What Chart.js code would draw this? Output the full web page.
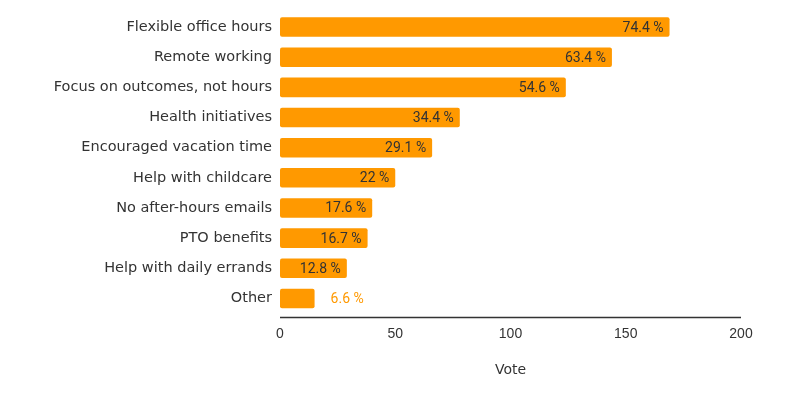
<!DOCTYPE html>
<html>
<head>
<meta charset="utf-8">
<script src="https://cdn.jsdelivr.net/npm/chart.js@4"></script>
<style>
  html, body { margin: 0; padding: 0; background: #fff; }
  #wrap { width: 798px; height: 397px; }
</style>
</head>
<body>
<div id="wrap"><canvas id="myChart" width="798" height="397"></canvas></div>
<script>
const categories = [
  'Flexible office hours',
  'Remote working',
  'Focus on outcomes, not hours',
  'Health initiatives',
  'Encouraged vacation time',
  'Help with childcare',
  'No after-hours emails',
  'PTO benefits',
  'Help with daily errands',
  'Other'
];
const votes = [169, 144, 124, 78, 66, 50, 40, 38, 29, 15];
const percentLabels = ['74.4', '63.4', '54.6', '34.4', '29.1', '22', '17.6', '16.7', '12.8', '6.6'];
const xTicks = [0, 50, 100, 150, 200];

const barColor = '#ff9900';
const textColor = '#333333';

// percent labels at the end of each bar
const barLabels = {
  id: 'barLabels',
  afterDatasetsDraw(chart) {
    const ctx = chart.ctx;
    const meta = chart.getDatasetMeta(0);
    ctx.save();
    ctx.font = '14px Roboto';
    ctx.textBaseline = 'middle';
    meta.data.forEach(function(bar, i) {
      const txt = percentLabels[i] + ' %';
      const w = ctx.measureText(txt).width;
      const barW = bar.x - bar.base;
      if (barW > w + 14) {
        ctx.fillStyle = textColor;
        ctx.textAlign = 'right';
        ctx.fillText(txt, bar.x - 6, bar.y + 1);
      } else {
        ctx.fillStyle = barColor;
        ctx.textAlign = 'left';
        ctx.fillText(txt, bar.x + 16, bar.y + 1);
      }
    });
    ctx.restore();
  }
};

// x axis base line, sits a few px under the last band
const axisLine = {
  id: 'axisLine',
  afterDraw(chart) {
    const a = chart.chartArea;
    const ctx = chart.ctx;
    ctx.save();
    ctx.strokeStyle = '#333333';
    ctx.lineWidth = 1.5;
    ctx.beginPath();
    ctx.moveTo(a.left, a.bottom + 4);
    ctx.lineTo(a.right, a.bottom + 4);
    ctx.stroke();
    ctx.restore();
  }
};

const ctx = document.getElementById('myChart').getContext('2d');
new Chart(ctx, {
  type: 'bar',
  data: {
    labels: categories,
    datasets: [{
      label: 'Vote',
      data: votes,
      backgroundColor: barColor,
      borderWidth: 0,
      borderRadius: 2,
      borderSkipped: false,
      barPercentage: 0.65,
      categoryPercentage: 1
    }]
  },
  options: {
    indexAxis: 'y',
    responsive: false,
    animation: false,
    layout: { padding: { top: 12, right: 57, left: 0, bottom: 0 } },
    plugins: {
      legend: { display: false },
      tooltip: { enabled: false }
    },
    scales: {
      x: {
        min: 0,
        max: 200,
        afterBuildTicks(scale) {
          scale.ticks = xTicks.map(v => ({ value: v }));
        },
        afterFit(scale) { scale.height = 83.5; },
        grid: { display: false, drawTicks: false },
        border: { display: false },
        ticks: {
          color: textColor,
          font: { family: 'Liberation Sans', size: 14 },
          padding: 12,
          maxRotation: 0
        },
        title: {
          display: true,
          text: 'Vote',
          color: textColor,
          font: { family: 'DejaVu Sans', size: 14 },
          padding: { top: 0, bottom: 18 }
        }
      },
      y: {
        afterFit(scale) {
          scale.width = 280;
          scale.paddingTop = 0;
          scale.paddingBottom = 0;
        },
        grid: { display: false, drawTicks: false },
        border: { display: false },
        ticks: {
          color: textColor,
          font: { family: 'DejaVu Sans', size: 14.5 },
          padding: 8
        }
      }
    }
  },
  plugins: [barLabels, axisLine]
});
</script>
</body>
</html>
